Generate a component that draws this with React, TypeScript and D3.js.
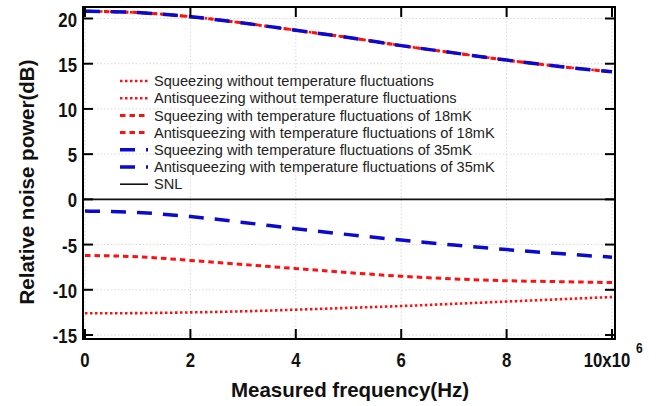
import React from "react";
import * as d3 from "d3";

const freqs = [0, 1e6, 2e6, 3e6, 4e6, 5e6, 6e6, 7e6, 8e6, 9e6, 10e6];
const antiSqueezing = [20.8, 20.65, 20.2, 19.5, 18.7, 17.9, 17.0, 16.2, 15.4, 14.7, 14.1];
const sqzNoTemp = [-12.6, -12.58, -12.5, -12.38, -12.2, -12.0, -11.8, -11.55, -11.3, -11.05, -10.8];
const sqz18 = [-6.2, -6.35, -6.75, -7.2, -7.65, -8.1, -8.5, -8.8, -9.0, -9.1, -9.2];
const sqz35 = [-1.3, -1.45, -1.9, -2.55, -3.25, -3.9, -4.5, -5.05, -5.55, -6.0, -6.4];
const xTicks = [0, 2e6, 4e6, 6e6, 8e6, 10e6];
const xTickLabels = ["0", "2", "4", "6", "8", "10x10"];
const yTicks = [-15, -10, -5, 0, 5, 10, 15, 20];
const legendLabels = [
  "Squeezing without temperature fluctuations",
  "Antisqueezing without temperature fluctuations",
  "Squeezing with temperature fluctuations of 18mK",
  "Antisqueezing with temperature fluctuations of 18mK",
  "Squeezing with temperature fluctuations of 35mK",
  "Antisqueezing with temperature fluctuations of 35mK",
  "SNL",
];

const RED = "#ff1010";
const BLUE = "#0a0ad0";

const styles = [
  { color: RED, dash: "2.5,2.5", w: 2.6 },
  { color: RED, dash: "2.5,2.5", w: 2.6 },
  { color: RED, dash: "5.5,4", w: 3 },
  { color: RED, dash: "5.5,4", w: 3 },
  { color: BLUE, dash: "15,11", w: 3.5 },
  { color: BLUE, dash: "15,11", w: 3.5 },
  { color: "#111", dash: "none", w: 1.6 },
];

export default function App() {
  const W = 664, H = 406;
  const left = 83, right = 615, top = 7, bottom = 339;
  const x = d3.scaleLinear().domain([0, 10e6]).range([85, 612]);
  const y = d3.scaleLinear().domain([-15, 20]).range([335, 18.5]);
  const line = d3
    .line<number>()
    .x((_, i) => x(freqs[i]))
    .y((d) => y(d))
    .curve(d3.curveMonotoneX);

  const series = [
    { data: sqzNoTemp, s: styles[0] },
    { data: antiSqueezing, s: styles[1] },
    { data: sqz18, s: styles[2] },
    { data: antiSqueezing, s: styles[3] },
    { data: sqz35, s: styles[4] },
    { data: antiSqueezing, s: styles[5] },
  ];
  const font = "'Liberation Sans', Arial, sans-serif";
  const tickLen = 10;
  const tickFont = 19.5;
  const sx = 0.86;

  return (
    <svg width={W} height={H} style={{ position: "absolute", left: 0, top: 0, background: "#fff" }} fontFamily={font}>
      <rect x={0} y={0} width={W} height={H} fill="#fff" />
      {/* grid */}
      {xTicks.map((t) => (
        <line key={"gx" + t} x1={x(t)} x2={x(t)} y1={top} y2={bottom} stroke="#d8d8d8" strokeWidth={1} strokeDasharray="1.5,2" />
      ))}
      {yTicks.map((t) => (
        <line key={"gy" + t} x1={left} x2={right} y1={y(t)} y2={y(t)} stroke="#d8d8d8" strokeWidth={1} strokeDasharray="1.5,2" />
      ))}
      {/* SNL */}
      <line x1={left} x2={right} y1={y(0)} y2={y(0)} stroke="#111" strokeWidth={1.8} />
      {/* series */}
      {series.map((sr, i) => (
        <path key={"s" + i} d={line(sr.data) || ""} fill="none" stroke={sr.s.color} strokeWidth={sr.s.w} strokeDasharray={sr.s.dash} />
      ))}
      {/* ticks */}
      {xTicks.map((t) => (
        <g key={"tx" + t}>
          <line x1={x(t)} x2={x(t)} y1={bottom} y2={bottom - tickLen} stroke="#000" strokeWidth={2} />
          <line x1={x(t)} x2={x(t)} y1={top} y2={top + tickLen} stroke="#000" strokeWidth={2} />
        </g>
      ))}
      {yTicks.map((t) => (
        <g key={"ty" + t}>
          <line x1={left} x2={left + tickLen} y1={y(t)} y2={y(t)} stroke="#000" strokeWidth={2} />
          <line x1={right} x2={right - tickLen} y1={y(t)} y2={y(t)} stroke="#000" strokeWidth={2} />
        </g>
      ))}
      {/* frame */}
      <rect x={left} y={top} width={right - left} height={bottom - top} fill="none" stroke="#000" strokeWidth={2} />
      {/* tick labels */}
      {xTicks.map((t, i) => (
        <text
          key={"lx" + t}
          transform={`translate(${x(t) - (i === xTicks.length - 1 ? 5 : 0)},367) scale(${sx},1)`}
          textAnchor="middle"
          fontSize={tickFont}
          fontWeight="bold"
          fill="#111"
        >
          {xTickLabels[i]}
        </text>
      ))}
      <text transform={`translate(${x(10e6) + 24},353) scale(${sx},1)`} fontSize={14} fontWeight="bold" fill="#111">6</text>
      {yTicks.map((t) => (
        <text
          key={"ly" + t}
          transform={`translate(77,${y(t) + 1}) scale(${sx},1)`}
          dy="0.36em"
          textAnchor="end"
          fontSize={tickFont}
          fontWeight="bold"
          fill="#111"
        >
          {t}
        </text>
      ))}
      {/* axis titles */}
      <text x={350} y={397} textAnchor="middle" fontSize={20.5} fontWeight="bold" fill="#111">
        Measured frequency(Hz)
      </text>
      <text transform={`translate(34,182) rotate(-90)`} textAnchor="middle" fontSize={20.5} fontWeight="bold" fill="#111">
        Relative noise power(dB)
      </text>
      {/* legend */}
      {legendLabels.map((lab, i) => {
        const ly = 81 + i * 17.2;
        const s = styles[i];
        return (
          <g key={"lg" + i}>
            <line x1={120} x2={148} y1={ly} y2={ly} stroke={s.color} strokeWidth={s.w} strokeDasharray={s.dash} />
            <text x={154} y={ly} dy="0.35em" fontSize={14.6} fill="#222">
              {lab}
            </text>
          </g>
        );
      })}
    </svg>
  );
}
